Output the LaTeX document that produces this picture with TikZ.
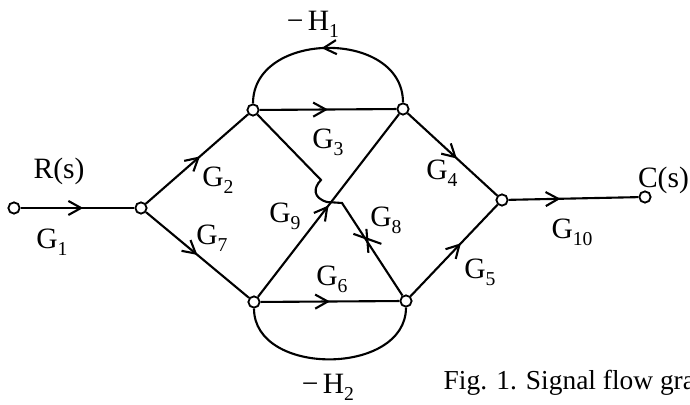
\documentclass[tikz,border=0pt]{standalone}
\usepackage{fontspec}
\setmainfont{Liberation Serif}
\usetikzlibrary{arrows.meta,decorations.markings}
\newcommand{\lsub}[1]{\raisebox{-5pt}{\fontsize{14}{14}\selectfont #1}}

\begin{document}
\begin{tikzpicture}[x=0.25mm, y=0.25mm, line width=1.5pt,
                    every node/.style={font=\fontsize{21}{24}\selectfont},
                    dot/.style={circle, draw, fill=white, line width=1.3pt, inner sep=0pt, minimum size=8pt},
                    midarrow/.style={postaction={decorate, decoration={markings,
                      mark=at position #1 with {\arrow{Straight Barb[length=9pt, width=10pt]}}}}},
                    midarrow/.default=0.55]
  \clip (0,0) rectangle (690,405);
  \node[dot] (in) at (14,197) {};
  \node[dot] (a) at (141,197) {};
  \node[dot] (b) at (253,295) {};
  \node[dot] (c) at (403,296) {};
  \node[dot] (d) at (254,103) {};
  \node[dot] (e) at (406,104) {};
  \node[dot] (f) at (502,205) {};
  \node[dot] (out) at (645,208) {};
  \draw[midarrow] (in) -- (a);
  \draw[midarrow=0.53] (a) -- (b);
  \draw[midarrow=0.5] (a) -- (d);
  \draw[midarrow=0.5] (b) -- (c);
  \draw[midarrow=0.53] (c) .. controls +(0,80) and +(0,80) .. (b);
  \draw[midarrow=0.55] (c) -- (f);
  \draw[midarrow=0.58] (e) -- (f);
  \draw[midarrow=0.4] (f) -- (out);
  \draw[midarrow=0.5] (d) -- (e);
  \draw (e) .. controls +(0,-75) and +(0,-75) .. (d);
  \draw[midarrow=0.5] (d) -- (c);
  \draw (b) -- (321,225) .. controls (313,217) and (313,207) .. (327,203) -- (342,202) -- (e) coordinate[pos=0.42] (x8);
  \draw (x8) ++(-14,8) -- ++(28,-10) (x8) ++(-1,13) -- ++(2,-24);
  \node (rs) at (59,234) {R(s)};
  \node (g1) at (52,163) {G\lsub{1}};
  \node (g2) at (218,225) {G\lsub{2}};
  \node (g7) at (212,167) {G\lsub{7}};
  \node (h1) at (313,381) {−\hspace{3pt}H\lsub{1}};
  \node (g3) at (328,263) {G\lsub{3}};
  \node (g4) at (442,232) {G\lsub{4}};
  \node (g5) at (480,133) {G\lsub{5}};
  \node (g10) at (572,173) {G\lsub{10}};
  \node[anchor=west, inner sep=0pt] (cs) at (637,225) {C(s)};
  \node (g9) at (285,189) {G\lsub{9}};
  \node (g8) at (386,185) {G\lsub{8}};
  \node (g6) at (332,126) {G\lsub{6}};
  \node (h2) at (328,18) {−\hspace{3pt}H\lsub{2}};
  \node[anchor=base west, font=\fontsize{19.5}{22}\selectfont] (cap) at (438,15) {Fig. 1. Signal flow graph};
\end{tikzpicture}
\end{document}
